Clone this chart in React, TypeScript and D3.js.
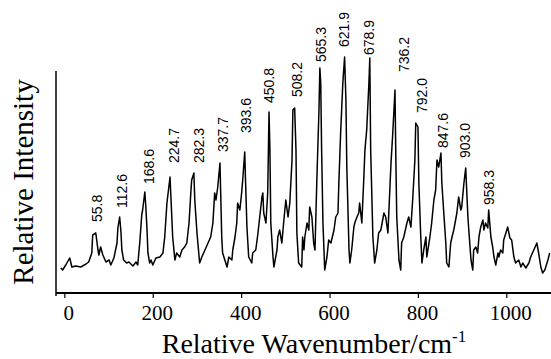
import React from 'react';
import * as d3 from 'd3';

// Spectrum (wavenumber in cm-1, intensity in arbitrary units)
const wavenumber = [
  -9, -5, 2, 11, 16, 25, 36, 48, 54, 61, 63, 70, 75, 77, 81, 86, 93, 100, 104, 111,
  118, 120, 124, 127, 129, 133, 140, 145, 154, 161, 165,
  170, 174, 176, 181, 183, 186, 188, 192, 195, 199, 206, 215, 222, 226, 231, 238, 240, 244, 249, 253,
  260, 265, 271, 276, 281, 285, 287, 292, 294, 299, 305, 310, 317, 324, 330, 335, 339, 342, 346, 351,
  355, 357, 362, 367, 371, 378, 380, 385, 389, 391, 396, 400, 403, 407, 409, 412, 416, 423, 425, 432,
  437, 441, 446, 448, 450, 455, 459, 462, 464, 466, 471, 473, 480, 482, 486, 491, 495, 500, 505, 509,
  514, 516, 520, 523, 525, 529, 536, 538, 541, 543, 548, 552, 554, 559, 563, 566, 570, 575, 577,
  579, 581, 584, 588, 593, 597, 602, 609, 613, 618, 620, 624, 629, 633, 636, 638, 643, 645, 649, 654,
  656, 661, 665, 667, 672, 676, 679, 683, 688, 690, 692, 697, 701, 706, 710, 715, 722, 726, 731, 735,
  738, 742, 747, 749, 751, 756, 760, 762, 767, 774, 778, 783, 787, 792, 794, 799, 801, 805, 808, 812,
  817, 819, 826, 830, 835, 839, 842, 846, 851, 853, 857, 862, 864, 869, 873, 876, 880, 887, 891, 896,
  898, 903, 907, 912, 914, 919, 923, 925, 930, 934, 937, 941, 946, 948, 952, 957, 959, 964, 968, 971,
  975, 980, 982, 986, 991, 993, 1000, 1002, 1007, 1011, 1016, 1020, 1027, 1032, 1036, 1043, 1050, 1054, 1061, 1068,
  1072, 1077, 1081, 1086, 1093, 1097,
];

const intensity = [
  25, 23, 28, 35, 26, 27, 26, 29, 31, 40, 58, 60, 43, 38, 46, 38, 31, 33, 28, 35,
  50, 65, 76, 61, 43, 33, 30, 31, 27, 31, 28,
  53, 78, 83, 101, 88, 63, 40, 30, 33, 28, 35, 36, 40, 56, 90, 116, 96, 56, 33, 40,
  36, 43, 46, 50, 70, 100, 113, 120, 93, 60, 30, 36, 43, 50, 56, 70, 100, 93, 106, 130,
  56, 40, 33, 26, 36, 33, 43, 56, 70, 90, 83, 100, 116, 141, 110, 66, 36, 30, 40, 43,
  60, 76, 96, 100, 80, 70, 100, 181, 143, 70, 36, 26, 43, 56, 63, 50, 70, 93, 76, 90,
  133, 183, 185, 143, 60, 30, 26, 56, 43, 56, 70, 63, 86, 76, 50, 43, 110, 183, 225,
  210, 143, 70, 23, 36, 53, 50, 63, 76, 80, 110, 160, 210, 236, 193, 126, 43, 30, 43, 66,
  70, 76, 80, 90, 70, 110, 143, 163, 210, 235, 143, 56, 30, 43, 60, 63, 80, 76, 60, 100,
  130, 160, 203, 133, 76, 33, 23, 50, 56, 70, 76, 66, 93, 133, 170, 166, 110, 60, 30, 43,
  56, 36, 56, 70, 93, 103, 133, 126, 140, 110, 83, 50, 30, 26, 50, 56, 63, 80, 96, 83,
  86, 110, 125, 76, 63, 33, 23, 43, 46, 40, 56, 66, 73, 63, 70, 65, 83, 56, 46, 36,
  28, 40, 36, 43, 40, 53, 63, 66, 55, 53, 36, 30, 33, 26, 30, 25, 30, 36, 43, 50,
  40, 26, 20, 23, 33, 40,
];

// Peak annotations
const peakLabels = [
  '55.8', '112.6', '168.6', '224.7', '282.3', '337.7', '393.6', '450.8', '508.2',
  '565.3', '621.9', '678.9', '736.2', '792.0', '847.6', '903.0', '958.3',
];
const peakLabelWavenumber = [72, 129, 190, 247, 303, 357, 409, 462, 525, 579, 631, 688, 767, 808, 856, 905, 959];
const peakLabelIntensity = [71, 85, 109, 130, 130, 141, 160, 190, 196, 231, 246, 238, 221, 180, 145, 135, 88];

const xTicks = [0, 200, 400, 600, 800, 1000];
const xDomain = [-20, 1100];
const yDomain = [0, 222];

const serif = '"Liberation Serif", "Times New Roman", Times, serif';
const sans = '"Liberation Sans", Arial, Helvetica, sans-serif';

export default function App() {
  const W = 551;
  const H = 359;
  const x = d3.scaleLinear().domain(xDomain).range([56, 551]);
  const y = d3.scaleLinear().domain(yDomain).range([293, 71]);

  const points: [number, number][] = wavenumber.map((w, i) => [w, intensity[i]]);
  const line = d3
    .line<[number, number]>()
    .x((d) => x(d[0]))
    .y((d) => y(d[1]));

  const y0 = y(0);

  return (
    <svg
      width={W}
      height={H}
      viewBox={`0 0 ${W} ${H}`}
      style={{ position: 'absolute', left: 0, top: 0, background: '#fff' }}
    >
      <rect x={0} y={0} width={W} height={H} fill="#fff" />
      {/* spectrum */}
      <path d={line(points) || ''} fill="none" stroke="#000" strokeWidth={1.5} strokeLinejoin="round" />

      {/* axes */}
      <line x1={x(xDomain[0])} x2={x(xDomain[0])} y1={y(yDomain[1])} y2={y0 + 3} stroke="#000" strokeWidth={1.5} />
      <line x1={x(xDomain[0])} x2={x(xDomain[1])} y1={y0} y2={y0} stroke="#000" strokeWidth={2} />
      {xTicks.map((t) => (
        <g key={t}>
          <line x1={x(t)} x2={x(t)} y1={y0} y2={y0 + 5} stroke="#000" strokeWidth={1.2} />
          <text x={x(t)} dx={4} y={320} textAnchor="middle" fontFamily={serif} fontSize={21} fill="#000">
            {t}
          </text>
        </g>
      ))}

      {/* peak labels */}
      {peakLabels.map((lab, i) => {
        const px = x(peakLabelWavenumber[i]);
        const py = y(peakLabelIntensity[i]);
        return (
          <text
            key={lab}
            transform={`translate(${px},${py}) rotate(-90)`}
            dy="0.36em"
            textAnchor="start"
            fontFamily={sans}
            fontSize={14}
            fill="#000"
          >
            {lab}
          </text>
        );
      })}

      {/* axis titles */}
      <text
        transform="translate(33,182) rotate(-90)"
        textAnchor="middle"
        fontFamily={serif}
        fontSize={29}
        fill="#000"
      >
        Relative Intensity
      </text>
      <text x={314} y={353} textAnchor="middle" fontFamily={serif} fontSize={28} fill="#000">
        Relative Wavenumber/cm
        <tspan fontSize={17} dy={-11}>-1</tspan>
      </text>
    </svg>
  );
}
